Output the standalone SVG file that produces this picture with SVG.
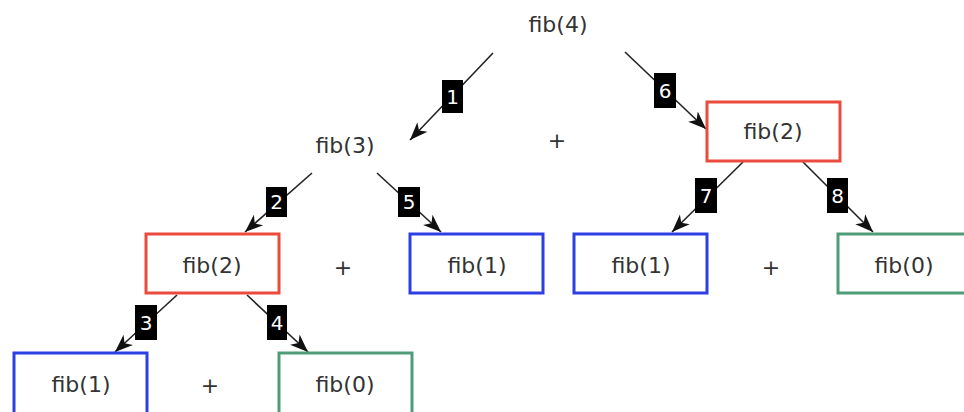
<svg xmlns="http://www.w3.org/2000/svg" width="964" height="412" viewBox="0 0 964 412">
<defs>
<style>
.t{font-family:"DejaVu Sans",sans-serif;font-size:22px;fill:#333;text-anchor:middle;dominant-baseline:central}
.n{font-family:"DejaVu Sans",sans-serif;font-size:20px;fill:#fff;text-anchor:middle;dominant-baseline:central}
.box{fill:#fff;stroke-width:3}
.red{stroke:#ea4b3c}.blue{stroke:#2c3fe3}.green{stroke:#4e9d78}
.c line{stroke:#222;stroke-width:1.6;marker-end:url(#ah)}
.lb{fill:#000}
</style>
<marker id="ah" markerUnits="userSpaceOnUse" markerWidth="20" markerHeight="20" viewBox="0 0 20 20" refX="18" refY="10" orient="auto">
<path d="M0,3 L18,10 L0,17 L5,10 Z" fill="#111"/>
</marker>
</defs>
<rect width="964" height="412" fill="#fff"/>
<g class="c" id="connectors">
<line x1="493" y1="53" x2="410" y2="140"/>
<line x1="625" y1="52" x2="706" y2="129"/>
<line x1="312" y1="173" x2="245" y2="232"/>
<line x1="377" y1="173" x2="441" y2="232"/>
<line x1="177" y1="295" x2="115" y2="352"/>
<line x1="247" y1="295" x2="308" y2="352"/>
<line x1="743" y1="162" x2="672" y2="232"/>
<line x1="803" y1="162" x2="873" y2="232"/>
</g>
<g id="labels">
<rect class="lb" x="442" y="80" width="21" height="33"/><text class="n" x="452.5" y="97">1</text>
<rect class="lb" x="266" y="187" width="21" height="30"/><text class="n" x="276.5" y="202">2</text>
<rect class="lb" x="135" y="305" width="22" height="35"/><text class="n" x="146" y="323">3</text>
<rect class="lb" x="267" y="305" width="20" height="35"/><text class="n" x="277" y="323">4</text>
<rect class="lb" x="398" y="187" width="22" height="30"/><text class="n" x="409" y="202">5</text>
<rect class="lb" x="654" y="73" width="22" height="35"/><text class="n" x="665" y="91">6</text>
<rect class="lb" x="695" y="178" width="22" height="35"/><text class="n" x="706" y="196">7</text>
<rect class="lb" x="827" y="178" width="21" height="35"/><text class="n" x="837.5" y="196">8</text>
</g>
<g id="fib4"><text class="t" x="558" y="24">fib(4)</text></g>
<g id="fib3"><text class="t" x="345" y="145">fib(3)</text></g>
<g id="plus1"><text class="t" x="557" y="140">+</text></g>
<g id="fib2r"><rect class="box red" x="707" y="102" width="133" height="59"/><text class="t" x="773" y="131">fib(2)</text></g>
<g id="fib2l"><rect class="box red" x="146" y="234" width="133" height="59"/><text class="t" x="212" y="265">fib(2)</text></g>
<g id="plus2"><text class="t" x="343" y="267">+</text></g>
<g id="fib1a"><rect class="box blue" x="410" y="234" width="133" height="59"/><text class="t" x="477" y="265">fib(1)</text></g>
<g id="fib1b"><rect class="box blue" x="574" y="234" width="133" height="59"/><text class="t" x="641" y="265">fib(1)</text></g>
<g id="plus3"><text class="t" x="771" y="267">+</text></g>
<g id="fib0a"><rect class="box green" x="838" y="234" width="133" height="59"/><text class="t" x="904" y="265">fib(0)</text></g>
<g id="fib1c"><rect class="box blue" x="14" y="353" width="133" height="62"/><text class="t" x="81" y="384">fib(1)</text></g>
<g id="plus4"><text class="t" x="210" y="385">+</text></g>
<g id="fib0b"><rect class="box green" x="279" y="353" width="133" height="62"/><text class="t" x="345" y="384">fib(0)</text></g>
</svg>
